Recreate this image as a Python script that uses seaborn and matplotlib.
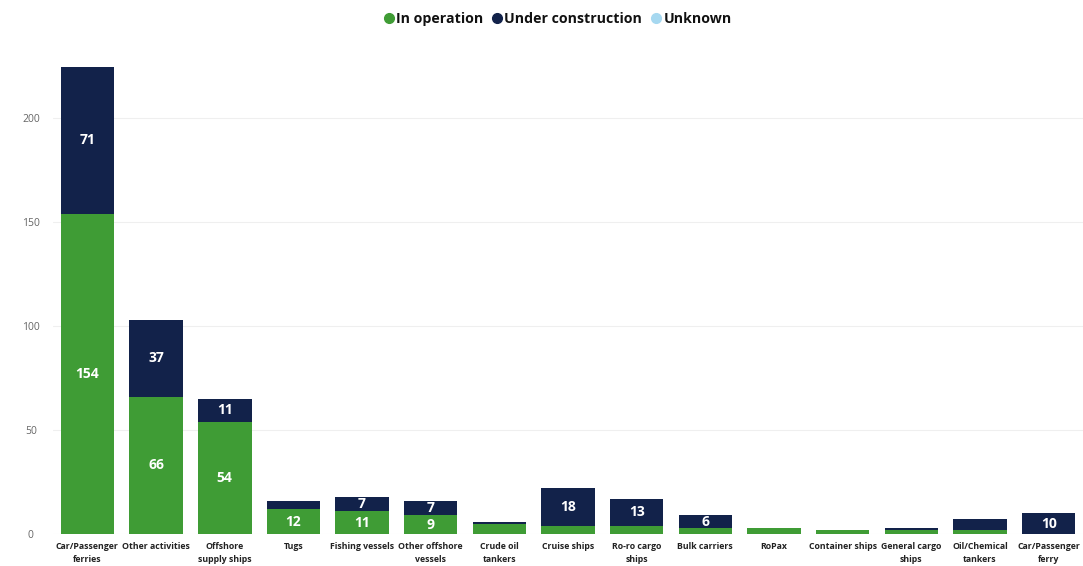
import matplotlib
matplotlib.use("Agg")
import matplotlib.pyplot as plt
from matplotlib.lines import Line2D
import seaborn as sns
import numpy as np
import pandas as pd

categories = [
    "Car/Passenger\nferries", "Other activities", "Offshore\nsupply ships", "Tugs",
    "Fishing vessels", "Other offshore\nvessels", "Crude oil\ntankers", "Cruise ships",
    "Ro-ro cargo\nships", "Bulk carriers", "RoPax", "Container ships",
    "General cargo\nships", "Oil/Chemical\ntankers", "Car/Passenger\nferry",
]
in_operation = [154, 66, 54, 12, 11, 9, 5, 4, 4, 3, 3, 2, 2, 2, 0]
under_construction = [71, 37, 11, 4, 7, 7, 1, 18, 13, 6, 0, 0, 1, 5, 10]
unknown = [0] * 15

GREEN = "#3F9C35"
NAVY = "#12224A"
LIGHT = "#A6D8F0"

sns.set_theme(style="white")
plt.rcParams["font.family"] = ["Open Sans", "DejaVu Sans"]

df = pd.DataFrame({
    "category": categories,
    "op": in_operation,
    "uc": under_construction,
})
df["total"] = df["op"] + df["uc"]

fig = plt.figure(figsize=(10.83, 5.66), dpi=100)
ax = fig.add_axes([0.049, 0.0565, 0.951, 0.848])

sns.barplot(data=df, x="category", y="total", color=NAVY, width=0.78,
            saturation=1, linewidth=0, ax=ax, zorder=2)
sns.barplot(data=df, x="category", y="op", color=GREEN, width=0.78,
            saturation=1, linewidth=0, ax=ax, zorder=3)

# value labels in the middle of each segment (shown when the segment is tall enough)
op_bars = ax.containers[1]
for i, bo in enumerate(op_bars):
    x = bo.get_x() + bo.get_width() / 2
    op = in_operation[i]
    uc = under_construction[i]
    if op >= 6:
        ax.text(x, op / 2, str(op), ha="center", va="center", color="white",
                fontsize=10, fontweight="bold", zorder=4)
    if uc >= 6:
        ax.text(x, op + uc / 2, str(uc), ha="center", va="center", color="white",
                fontsize=10, fontweight="bold", zorder=4)

ax.set_ylim(0, 231)
ax.set_xlim(-0.5, len(categories) - 0.5)
ax.set_yticks([0, 50, 100, 150, 200])
ax.yaxis.grid(True, color="#EFEFEF", linewidth=0.8, zorder=0)
ax.set_axisbelow(True)
ax.set_xlabel("")
ax.set_ylabel("")
for s in ax.spines.values():
    s.set_visible(False)
ax.tick_params(axis="y", length=0, labelsize=7.5, labelcolor="#666666", pad=16)
ax.tick_params(axis="x", length=0, labelsize=6.3, pad=6)
for lbl in ax.get_yticklabels():
    lbl.set_horizontalalignment("center")
for lbl in ax.get_xticklabels():
    lbl.set_fontweight("bold")
    lbl.set_color("#222222")
    lbl.set_linespacing(1.55)

handles = [
    Line2D([], [], marker="o", linestyle="none", markersize=7, color=c)
    for c in (GREEN, NAVY, LIGHT)
]
fig.legend(handles, ["In operation", "Under construction", "Unknown"],
           loc="center", bbox_to_anchor=(0.514, 0.966), ncol=3, frameon=False,
           prop={"size": 10.2, "weight": "bold"}, handletextpad=0.0,
           columnspacing=0.5, handlelength=1.0, labelcolor="#111111")

fig.savefig("out.png", dpi=100)
